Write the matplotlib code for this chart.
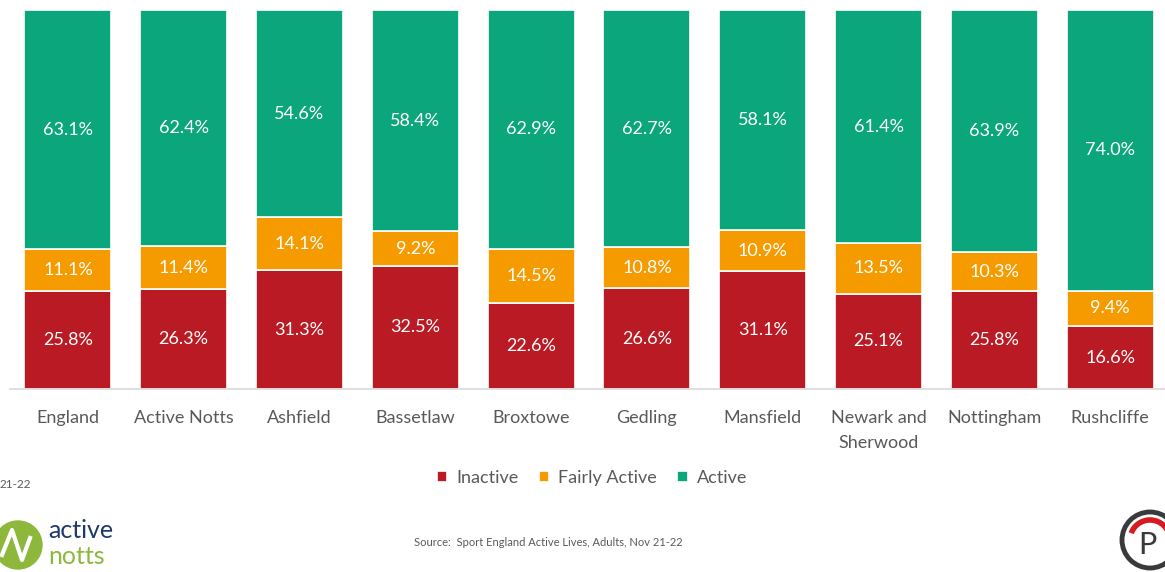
import numpy as np
import matplotlib
matplotlib.use('Agg')
import matplotlib.pyplot as plt
from matplotlib.patches import Circle, Arc

plt.rcParams['font.family'] = ['Lato', 'DejaVu Sans']

areas = ['England', 'Active Notts', 'Ashfield', 'Bassetlaw', 'Broxtowe', 'Gedling',
         'Mansfield', 'Newark and\nSherwood', 'Nottingham', 'Rushcliffe']
inactive = [25.8, 26.3, 31.3, 32.5, 22.6, 26.6, 31.1, 25.1, 25.8, 16.6]
fairly = [11.1, 11.4, 14.1, 9.2, 14.5, 10.8, 10.9, 13.5, 10.3, 9.4]
active = [63.1, 62.4, 54.6, 58.4, 62.9, 62.7, 58.1, 61.4, 63.9, 74.0]

series = [('Inactive', inactive, '#BA1A23'),
          ('Fairly Active', fairly, '#F59B00'),
          ('Active', active, '#0BA67B')]

fig = plt.figure(figsize=(11.65, 5.72), dpi=100)
W, H = 1165, 572
ax = fig.add_axes([10 / W, 1 - 389 / H, 1158 / W, 379 / H])

x = np.arange(len(areas))
bottom = np.zeros(len(areas))
for name, vals, col in series:
    vals = np.array(vals)
    ax.bar(x, vals, 0.75, bottom=bottom, color=col, edgecolor='white', linewidth=1.2, label=name)
    for xi, b, v in zip(x, bottom, vals):
        ax.text(xi, b + v / 2, f'{v:.1f}%', ha='center', va='center', color='white', fontsize=13)
    bottom += vals

ax.set_xlim(-0.5, len(areas) - 0.5)
ax.set_ylim(0, bottom.max())
ax.set_yticks([])
ax.set_xticks(x)
ax.set_xticklabels(areas, fontsize=13, color='#595959', va='top', linespacing=1.7)
ax.tick_params(axis='x', length=0, pad=15)
for s in ['top', 'right', 'left']:
    ax.spines[s].set_visible(False)
ax.spines['bottom'].set_color('#D9D9D9')
ax.spines['bottom'].set_linewidth(1.2)

fig.legend(loc='center', bbox_to_anchor=(592 / W, 1 - 478 / H), ncol=3, frameon=False,
           fontsize=13, handlelength=0.6, handleheight=0.6, handletextpad=0.5,
           columnspacing=1.1, labelcolor='#595959')

fig.text(0, 1 - 485 / H, '21-22', fontsize=8.5, color='#595959', va='center', ha='left')
fig.text(548 / W, 1 - 543 / H, 'Source:  Sport England Active Lives, Adults, Nov 21-22',
         fontsize=8, color='#595959', ha='center', va='center')

# active notts logo (approximation)
lax = fig.add_axes([0, 0, 1, 1], facecolor='none')
lax.set_xlim(0, W)
lax.set_ylim(H, 0)
lax.axis('off')
lax.add_patch(Circle((18, 545), 24, color='#8DB83B'))
lax.plot([2, 12, 22, 30], [555, 530, 560, 538], color='white', lw=3)
fig.text(48 / W, 1 - 531 / H, 'active', fontsize=18, color='#1E3A6B', va='center')
fig.text(48 / W, 1 - 556 / H, 'notts', fontsize=18, color='#8DB83B', va='center')

# right logo (cropped)
lax.add_patch(Circle((1150, 540), 28, fill=False, ec='#3A3A3A', lw=3.5))
lax.add_patch(Arc((1150, 540), 40, 40, theta1=200, theta2=340, ec='#D71920', lw=4))
fig.text(1138 / W, 1 - 545 / H, 'P', fontsize=22, color='#3A3A3A', va='center')

fig.savefig('out.png', dpi=100)
